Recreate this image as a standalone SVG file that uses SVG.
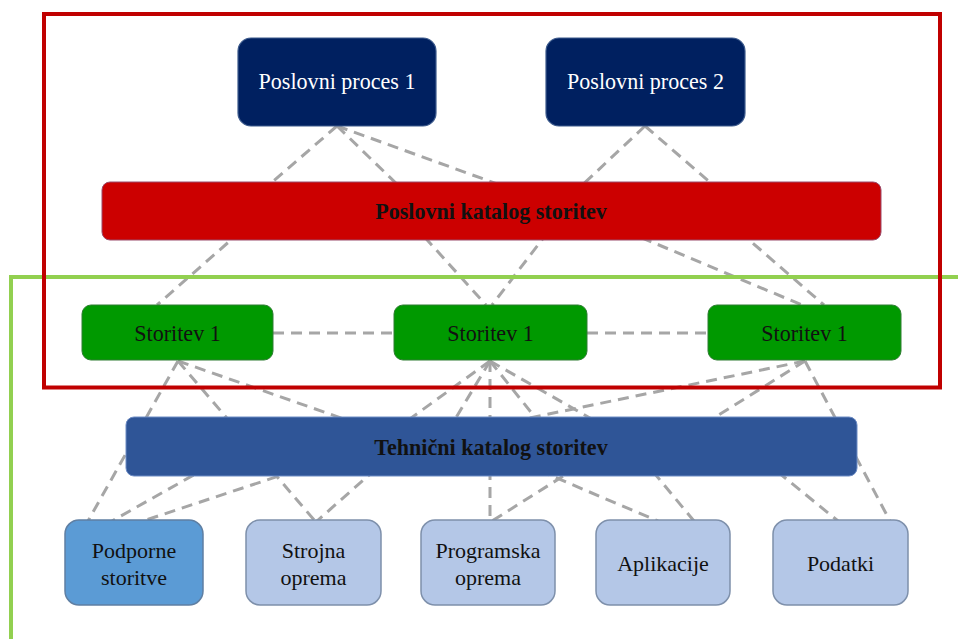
<svg xmlns="http://www.w3.org/2000/svg" width="958" height="639" viewBox="0 0 958 639">
  <style>
    .lbl { font-family: "Liberation Serif", "Times New Roman", serif; font-size: 22px; text-anchor: middle; fill: #111; }
    .tall { font-size: 24px; }
    .white { fill: #fff; }
    .bold { font-weight: bold; }
    .conn { fill: none; stroke: #a6a6a6; stroke-width: 3; stroke-dasharray: 11 7; }
    .proc { fill: #002060; stroke: #3c5a8c; stroke-width: 1.2; }
    .svc { fill: #009900; stroke: #2e7d32; stroke-width: 1; }
    .res { fill: #b4c7e7; stroke: #7e90ab; stroke-width: 1.5; }
    .res-main { fill: #5b9bd5; stroke: #5f7fa3; stroke-width: 1.5; }
  </style>
  <rect width="958" height="639" fill="#ffffff"/>

  <!-- connectors (drawn first so boxes and bars sit on top of them) -->
  <g id="connectors">
    <!-- business processes to services, passing behind the business catalogue -->
    <path class="conn" d="M337,126 L263,190 L240,232 L157,305"/>
    <path class="conn" d="M337,126 L403,190 L420,232 L486,305"/>
    <path class="conn" d="M337,126 L514,190 L628,232 L802,305"/>
    <path class="conn" d="M645,126 L577,190 L548,232 L492,305"/>
    <path class="conn" d="M645,126 L719,190 L740,232 L824,305"/>
    <!-- links between services -->
    <path class="conn" d="M273,333 L394,333"/>
    <path class="conn" d="M587,333 L708,333"/>
    <!-- services to resources, passing behind the technical catalogue -->
    <path class="conn" d="M178,361 L88,521"/>
    <path class="conn" d="M178,361 L315,521"/>
    <path class="conn" d="M178,361 L364,426 L533,468 L658,521"/>
    <path class="conn" d="M490,361 L490,521"/>
    <path class="conn" d="M490,361 L400,426 L206,468 L112,521"/>
    <path class="conn" d="M490,361 L451,426 L377,468 L317,521"/>
    <path class="conn" d="M490,361 L604,426 L650,468 L694,521"/>
    <path class="conn" d="M490,361 L542,426 L773,468 L838,521"/>
    <path class="conn" d="M805,361 L491,426 L303,468 L143,521"/>
    <path class="conn" d="M805,361 L701,426 L576,468 L492,521"/>
    <path class="conn" d="M805,361 L890,521"/>
  </g>

  <!-- enclosing frames -->
  <rect id="frame-technical" x="11" y="277" width="960" height="420" fill="none" stroke="#92d050" stroke-width="4"/>
  <rect id="frame-business" x="44" y="14" width="896" height="373.5" fill="none" stroke="#c00000" stroke-width="4"/>

  <!-- business processes -->
  <g id="proces-1">
    <rect class="proc" x="238" y="38" width="198" height="88" rx="13"/>
    <text class="lbl tall white" transform="translate(337 89) scale(0.92 1)">Poslovni proces 1</text>
  </g>
  <g id="proces-2">
    <rect class="proc" x="546" y="38" width="199" height="88" rx="13"/>
    <text class="lbl tall white" transform="translate(645.5 89) scale(0.92 1)">Poslovni proces 2</text>
  </g>

  <!-- business service catalogue -->
  <g id="poslovni-katalog">
    <rect x="102" y="182" width="779" height="58" rx="8" fill="#cc0000" stroke="#9a4a6a" stroke-width="1"/>
    <text class="lbl tall bold" transform="translate(491 219) scale(0.92 1)">Poslovni katalog storitev</text>
  </g>

  <!-- services -->
  <g id="storitev-a">
    <rect class="svc" x="82" y="305" width="191" height="55" rx="9"/>
    <text class="lbl tall" transform="translate(177.5 341) scale(0.92 1)">Storitev 1</text>
  </g>
  <g id="storitev-b">
    <rect class="svc" x="394" y="305" width="193" height="55" rx="9"/>
    <text class="lbl tall" transform="translate(490.5 341) scale(0.92 1)">Storitev 1</text>
  </g>
  <g id="storitev-c">
    <rect class="svc" x="708" y="305" width="193" height="55" rx="9"/>
    <text class="lbl tall" transform="translate(804.5 341) scale(0.92 1)">Storitev 1</text>
  </g>

  <!-- technical service catalogue -->
  <g id="tehnicni-katalog">
    <rect x="126" y="417" width="731" height="59" rx="8" fill="#2f5597" stroke="#6d8cc4" stroke-width="1"/>
    <text class="lbl tall bold" transform="translate(491 455) scale(0.92 1)">Tehnični katalog storitev</text>
  </g>

  <!-- resources -->
  <g id="podporne-storitve">
    <rect class="res-main" x="65" y="520" width="138" height="85" rx="14"/>
    <text class="lbl" x="134" y="558">Podporne</text>
    <text class="lbl" x="134" y="585">storitve</text>
  </g>
  <g id="strojna-oprema">
    <rect class="res" x="246" y="520" width="135" height="85" rx="14"/>
    <text class="lbl" x="313.5" y="558">Strojna</text>
    <text class="lbl" x="313.5" y="585">oprema</text>
  </g>
  <g id="programska-oprema">
    <rect class="res" x="421" y="520" width="134" height="85" rx="14"/>
    <text class="lbl" x="488" y="558">Programska</text>
    <text class="lbl" x="488" y="585">oprema</text>
  </g>
  <g id="aplikacije">
    <rect class="res" x="596" y="520" width="134" height="85" rx="14"/>
    <text class="lbl" x="663" y="571">Aplikacije</text>
  </g>
  <g id="podatki">
    <rect class="res" x="773" y="520" width="135" height="85" rx="14"/>
    <text class="lbl" x="840.5" y="571">Podatki</text>
  </g>
</svg>
